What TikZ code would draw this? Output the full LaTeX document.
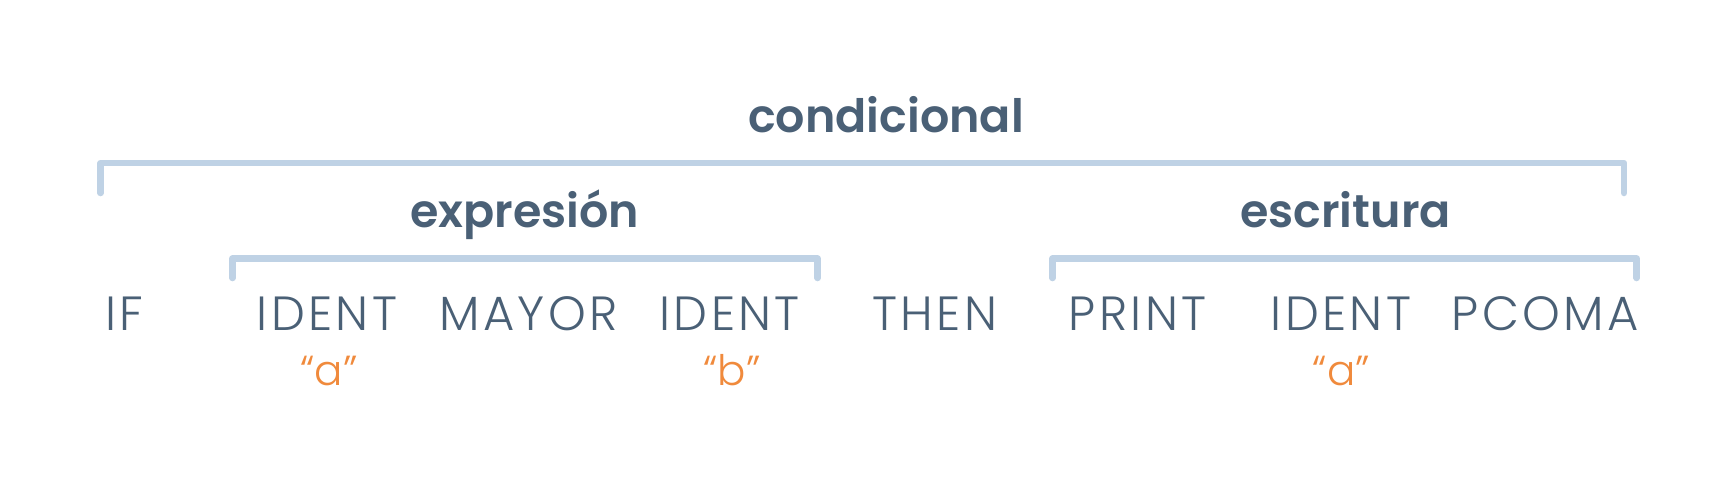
\documentclass[tikz,border=0pt]{standalone}
\usepackage{fontspec}
\newfontfamily\tokfont[LetterSpace=7]{Poppins Light}
\newfontfamily\valfont{Poppins Light}
\newfontfamily\headfont{Poppins SemiBold}
\definecolor{ink}{HTML}{4A6076}
\definecolor{brk}{HTML}{BFD2E5}
\definecolor{org}{HTML}{F08A3C}
\begin{document}
\begin{tikzpicture}[x=1pt,y=-1pt,
  tok/.style={anchor=base,inner sep=0pt,text=ink,font=\tokfont\fontsize{48}{48}\selectfont},
  head/.style={anchor=base,inner sep=0pt,text=ink,font=\headfont\fontsize{46}{46}\selectfont},
  val/.style={anchor=base,inner sep=0pt,text=org,font=\valfont\fontsize{42}{42}\selectfont},
  brace/.style={draw=brk,line width=6.5pt,line cap=round,line join=round}]
\useasboundingbox[fill=white] (0,0) rectangle (1735,488);
% headers
\node[head] (cond) at (886,132.3) {condicional};
\node[head] (expr) at (524.5,227) {expresión};
\node[head] (escr) at (1345.5,227) {escritura};
% brackets
\coordinate (c1) at (100.7,193); \coordinate (c2) at (1624,193);
\coordinate (e1) at (232.4,278); \coordinate (e2) at (817.7,278);
\coordinate (s1) at (1052.6,278); \coordinate (s2) at (1636.7,278);
\draw[brace] (c1) -- ++(0,-30) -| (c2);
\draw[brace] (e1) -- ++(0,-19.3) -| (e2);
\draw[brace] (s1) -- ++(0,-19.5) -| (s2);
% tokens
\node[tok] (tIF) at (124.5,330.7) {IF};
\node[tok] (tID1) at (327,330.7) {IDENT};
\node[tok] (tMAY) at (528.4,330.7) {MAYOR};
\node[tok] (tID2) at (729.7,330.7) {IDENT};
\node[tok] (tTHEN) at (935,330.7) {THEN};
\node[tok] (tPR) at (1137.5,330.7) {PRINT};
\node[tok] (tID3) at (1341,330.7) {IDENT};
\node[tok] (tPC) at (1545.4,330.7) {PCOMA};
% values
\node[val] (v1) at (329,385) {“a”};
\node[val] (v2) at (732,385) {“b”};
\node[val] (v3) at (1341.5,385) {“a”};
\end{tikzpicture}
\end{document}
